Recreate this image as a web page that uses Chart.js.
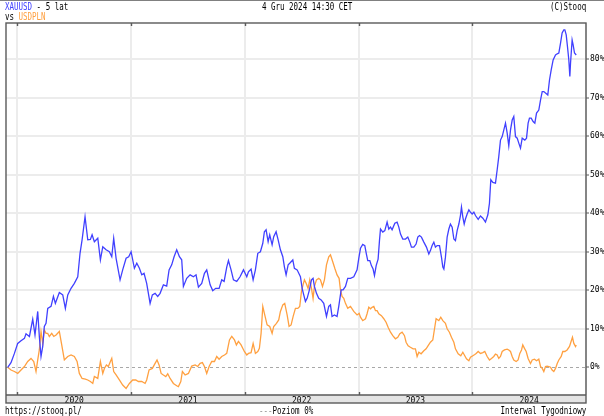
<!DOCTYPE html>
<html>
<head>
<meta charset="utf-8">
<script src="https://cdn.jsdelivr.net/npm/chart.js@4.4.1/dist/chart.umd.min.js"></script>
<style>
body { margin: 0; background: #fff; }
#wrap { position: relative; width: 604px; height: 416px; overflow: hidden; }
#chart { position: absolute; left: 0; top: 0; }
.t {
    position: absolute;
    font: 10px "DejaVu Sans Mono", monospace;
    line-height: 10px;
    white-space: nowrap;
    color: #000;
    transform: scaleX(0.75);
    transform-origin: 0 0;
}
.r { transform-origin: 100% 0; }
.blue { color: #4040ff; }
.orange { color: #ffa040; }
.gray { color: #999; }
#topline { position: absolute; left: 0; top: 0; width: 604px; height: 1px; background: #808080; }
</style>
</head>
<body>
<div id="wrap">
    <canvas id="chart" width="604" height="416"></canvas>
    <div id="topline"></div>
    <div class="t" style="left:5px;top:2px"><span class="blue">XAUUSD</span> - 5 lat</div>
    <div class="t" style="left:5px;top:12px">vs <span class="orange">USDPLN</span></div>
    <div class="t" style="left:262px;top:2px">4 Gru 2024 14:30 CET</div>
    <div class="t r" style="right:18px;top:2px">(C)Stooq</div>
    <div class="t" style="left:5px;top:406px">https://stooq.pl/</div>
    <div class="t" style="left:259px;top:406px"><span class="gray">---</span>Poziom 0%</div>
    <div class="t r" style="right:18px;top:406px">Interwal Tygodniowy</div>
</div>
<script>
"use strict";

// weekly closes, % change vs start (dates in decimal years)
const goldDates = [
    2019.915,2019.944,2019.974,2020.003,2020.032,2020.062,2020.076,2020.106,2020.135,2020.155,
    2020.179,2020.193,2020.208,2020.223,2020.237,2020.252,2020.267,2020.296,2020.317,2020.334,
    2020.369,2020.399,2020.422,2020.443,2020.472,2020.501,2020.531,2020.551,2020.569,2020.595,
    2020.619,2020.642,2020.657,2020.677,2020.707,2020.730,2020.751,2020.780,2020.809,2020.830,
    2020.847,2020.868,2020.903,2020.926,2020.956,2020.979,2021.000,2021.029,
    2021.050,2021.073,2021.094,2021.114,2021.137,2021.152,2021.167,2021.187,2021.211,2021.234,
    2021.255,2021.284,2021.313,2021.334,2021.357,2021.378,2021.401,2021.425,2021.445,2021.460,
    2021.489,2021.519,2021.548,2021.571,2021.592,2021.621,2021.645,2021.665,2021.695,2021.718,
    2021.744,2021.774,2021.797,2021.818,2021.841,2021.856,2021.879,2021.900,2021.929,2021.958,
    2021.988,2022.017,2022.032,
    2022.055,2022.073,2022.093,2022.114,2022.137,2022.158,2022.172,2022.187,2022.205,2022.219,
    2022.240,2022.254,2022.275,2022.293,2022.313,2022.334,2022.348,2022.363,2022.381,2022.401,
    2022.422,2022.436,2022.460,2022.489,2022.504,2022.518,2022.533,2022.548,2022.568,2022.586,
    2022.600,2022.612,2022.630,2022.650,2022.671,2022.694,2022.718,2022.738,2022.753,2022.767,
    2022.788,2022.811,2022.826,2022.847,2022.864,2022.885,2022.905,2022.929,2022.958,2022.987,
    2023.002,2023.017,
    2023.037,2023.055,2023.069,2023.081,2023.099,2023.113,2023.128,2023.140,2023.155,2023.172,
    2023.184,2023.193,2023.213,2023.231,2023.251,2023.266,2023.281,2023.295,2023.319,2023.339,
    2023.354,2023.369,2023.389,2023.413,2023.433,2023.451,2023.465,2023.486,2023.506,2023.521,
    2023.536,2023.553,2023.574,2023.597,2023.618,2023.632,2023.647,2023.662,2023.676,2023.691,
    2023.712,2023.729,2023.741,2023.750,2023.764,2023.779,2023.794,2023.808,2023.823,2023.838,
    2023.852,2023.867,2023.882,2023.896,2023.905,2023.917,2023.929,2023.940,2023.955,2023.970,
    2023.984,2023.999,2024.014,2024.028,
    2024.052,2024.072,2024.093,2024.116,2024.137,2024.151,2024.163,2024.181,2024.204,2024.219,
    2024.233,2024.248,2024.263,2024.277,2024.292,2024.307,2024.321,2024.336,2024.351,2024.365,
    2024.380,2024.395,2024.409,2024.424,2024.439,2024.462,2024.477,2024.491,2024.503,2024.518,
    2024.535,2024.550,2024.565,2024.585,2024.600,2024.615,2024.629,2024.644,2024.664,2024.679,
    2024.694,2024.711,2024.732,2024.747,2024.761,2024.776,2024.790,2024.805,2024.814,2024.826,
    2024.837,2024.849,2024.858,2024.864,2024.878,2024.887,2024.899,2024.914
];
const goldPct = [
    0,1.2,3.6,6.2,6.9,7.5,8.7,8.0,12.5,8.4,
    14.5,8.0,2.8,5.4,10.6,11.4,15.3,15.8,18.4,16.6,
    19.4,18.8,15.3,18.8,20.5,21.8,23.5,29.6,33.1,39.1,
    33.1,33.2,34.4,32.6,33.5,27.9,31.3,30.5,30.0,28.7,
    33.5,28.3,22.7,25.3,28.3,28.7,30.0,25.7,
    27.0,25.7,24.0,24.4,21.8,19.2,16.6,18.8,19.2,18.4,
    19.2,21.4,21.1,25.3,26.6,28.7,30.5,28.7,27.9,21.0,
    23.1,24.0,23.5,24.0,20.8,21.8,24.4,25.3,21.4,19.9,
    20.5,20.5,22.7,22.3,26.0,27.7,25.3,22.7,22.3,23.5,
    25.3,23.5,24.8,
    25.5,22.7,25.3,29.6,30.0,32.2,35.2,35.7,32.6,34.4,
    31.8,33.9,35.2,33.1,30.5,28.7,26.1,24.0,26.6,27.2,
    27.9,25.7,25.3,23.5,20.5,18.8,17.1,17.9,20.1,22.7,
    23.1,21.0,19.2,17.9,17.5,16.6,13.2,15.8,16.2,13.2,
    13.6,13.2,15.8,20.1,20.1,21.0,23.1,23.1,23.5,25.3,
    28.3,30.9,
    31.9,31.6,29.4,27.7,27.7,26.4,25.5,23.8,26.4,28.1,
    32.9,35.9,35.1,35.5,37.7,35.9,36.4,35.7,37.4,37.7,
    36.4,34.6,33.3,33.3,33.8,32.5,31.2,31.2,32.0,33.8,
    34.2,33.8,32.5,31.2,29.4,30.3,31.6,32.5,31.2,31.6,
    31.6,28.6,26.0,25.5,28.6,33.8,35.9,37.2,36.4,33.3,
    32.9,35.5,37.2,39.4,41.6,39.0,37.2,38.5,39.8,40.9,
    40.3,39.8,40.3,39.4,
    38.4,39.3,38.7,37.7,39.6,42.6,48.7,48.0,47.8,51.3,
    54.7,59.0,59.9,61.6,63.4,60.8,57.5,61.6,64.2,65.1,
    59.9,59.5,58.2,56.9,59.5,59.0,59.5,63.4,64.7,64.7,
    63.8,63.4,66.0,66.8,69.4,71.6,71.6,71.2,70.7,74.6,
    77.2,79.8,81.1,81.4,81.6,84.2,86.8,87.6,87.6,86.3,
    83.3,79.8,75.5,79.0,85.0,83.7,81.6,81.1
];

const plnDates = [
    2019.915,2019.944,2019.974,2020.003,2020.032,2020.062,2020.091,2020.120,2020.144,2020.164,
    2020.179,2020.193,2020.208,2020.223,2020.237,2020.252,2020.267,2020.281,2020.302,2020.320,
    2020.340,2020.369,2020.390,2020.413,2020.443,2020.472,2020.501,2020.525,2020.545,2020.569,
    2020.598,2020.619,2020.642,2020.663,2020.677,2020.707,2020.730,2020.751,2020.765,2020.783,
    2020.800,2020.818,2020.830,2020.847,2020.868,2020.897,2020.926,2020.956,2020.985,2021.014,
    2021.041,2021.064,2021.094,2021.123,2021.137,2021.158,2021.187,2021.211,2021.228,2021.246,
    2021.264,2021.284,2021.305,2021.322,2021.343,2021.372,2021.401,2021.416,2021.437,2021.451,
    2021.475,2021.504,2021.533,2021.563,2021.586,2021.607,2021.627,2021.645,2021.665,2021.686,
    2021.709,2021.733,2021.753,2021.774,2021.797,2021.821,2021.841,2021.865,2021.885,2021.909,
    2021.926,2021.944,2021.967,2021.996,2022.017,2022.032,
    2022.055,2022.073,2022.093,2022.114,2022.128,2022.143,2022.158,2022.172,2022.196,2022.219,
    2022.240,2022.254,2022.278,2022.298,2022.313,2022.334,2022.351,2022.372,2022.389,2022.407,
    2022.425,2022.445,2022.466,2022.483,2022.498,2022.512,2022.524,2022.539,2022.556,2022.571,
    2022.586,2022.600,2022.612,2022.630,2022.650,2022.665,2022.683,2022.700,2022.718,2022.738,
    2022.753,2022.773,2022.791,2022.811,2022.829,2022.841,2022.855,2022.870,2022.885,2022.905,
    2022.929,2022.958,2022.987,2023.005,2023.017,
    2023.037,2023.061,2023.075,2023.090,2023.105,2023.119,2023.134,2023.149,2023.163,2023.178,
    2023.201,2023.222,2023.242,2023.260,2023.281,2023.301,2023.324,2023.345,2023.363,2023.383,
    2023.404,2023.418,2023.436,2023.456,2023.480,2023.500,2023.515,2023.530,2023.550,2023.574,
    2023.594,2023.612,2023.632,2023.653,2023.668,2023.682,2023.706,2023.723,2023.741,2023.764,
    2023.779,2023.799,2023.817,2023.838,2023.852,2023.876,2023.899,2023.917,2023.934,2023.949,
    2023.970,2023.984,2024.005,2024.022,
    2024.034,2024.052,2024.072,2024.093,2024.110,2024.131,2024.151,2024.169,2024.189,2024.204,
    2024.219,2024.233,2024.248,2024.263,2024.283,2024.307,2024.321,2024.336,2024.351,2024.365,
    2024.386,2024.403,2024.418,2024.433,2024.444,2024.459,2024.474,2024.491,2024.512,2024.527,
    2024.547,2024.565,2024.585,2024.600,2024.615,2024.629,2024.644,2024.658,2024.673,2024.688,
    2024.702,2024.717,2024.732,2024.747,2024.761,2024.782,2024.796,2024.814,2024.834,2024.855,
    2024.873,2024.881,2024.893,2024.908,2024.914
];
const plnPct = [
    0,-0.7,-1.1,-1.6,-0.7,0.2,1.5,2.3,1.5,-1.1,
    1.9,4.5,9.3,6.2,9.7,8.8,8.8,8.0,8.8,8.0,
    8.4,9.3,5.8,1.9,2.8,3.2,2.8,1.5,-1.6,-2.9,
    -3.1,-3.3,-3.7,-4.2,-2.4,-2.9,1.5,-1.6,-0.3,0.6,
    0.2,1.5,2.3,-1.1,-2.0,-3.3,-4.6,-5.5,-4.2,-3.3,
    -3.3,-3.7,-3.7,-4.2,-3.3,-0.7,-0.3,1.0,1.9,0.6,
    -1.6,-2.0,-2.4,-1.7,-2.9,-4.2,-4.8,-5.0,-3.7,-1.1,
    -2.0,-1.6,0.3,0.6,0.2,1.0,1.2,0.2,-1.6,0.2,
    1.5,1.5,2.8,2.1,2.8,3.2,3.6,7.1,8.0,7.1,
    5.8,6.7,5.8,4.1,3.2,3.6,
    3.8,6.2,3.6,4.1,4.9,8.8,15.8,14.0,11.0,10.6,
    8.8,10.6,11.4,12.3,14.5,16.2,16.6,13.6,10.6,11.0,
    13.2,15.3,15.3,15.8,19.7,21.4,22.7,21.8,20.5,22.7,
    20.5,17.9,21.0,22.7,23.1,22.7,21.0,22.7,26.6,28.7,
    29.2,27.4,25.7,24.0,23.1,20.1,18.4,17.9,16.6,15.3,
    15.8,14.5,13.6,14.0,13.0,
    12.1,12.6,13.9,15.6,15.2,15.6,15.8,14.7,14.7,13.9,
    13.4,12.6,11.7,10.4,9.1,8.2,7.4,7.8,8.7,9.1,
    8.2,6.5,5.6,5.2,4.8,4.8,2.8,3.9,3.5,4.3,
    4.8,5.6,6.5,7.1,10.0,12.6,12.1,13.0,12.1,11.4,
    10.0,9.1,7.8,6.5,4.8,3.5,3.0,3.9,3.0,2.2,
    1.7,2.6,3.0,3.3,
    3.6,4.1,3.6,3.8,4.1,2.8,1.9,2.3,2.8,3.4,
    3.2,2.3,2.8,4.1,4.5,4.7,4.5,4.1,2.8,1.9,
    1.5,1.9,3.6,4.5,5.8,4.9,4.1,2.3,1.0,1.9,
    2.1,1.7,2.1,0.2,-0.3,-1.1,0.2,0.3,0.2,0,
    -0.7,-1.1,-0.3,1.0,1.9,2.8,4.1,4.1,4.5,5.4,
    7.1,7.8,6.2,5.4,5.8
];

const yearLabels = [2020, 2021, 2022, 2023, 2024];
const pctTicks = [0, 10, 20, 30, 40, 50, 60, 70, 80];

const BLUE = "rgb(64, 64, 255)";
const ORANGE = "rgb(255, 160, 64)";
const FRAME = "#5a5a5a";
const GRID = "#ececec";
const BAND_H = 8;

function toPoints(dates, vals) {
    return dates.map((d, i) => ({ x: d, y: vals[i] }));
}

// year band, frame, inward ticks and the 0% level
const stooqFrame = {
    id: "stooqFrame",
    beforeDraw(chart) {
        const { ctx, chartArea: a } = chart;
        ctx.save();
        ctx.fillStyle = "#e4e4e4";
        ctx.fillRect(a.left, a.bottom, a.right - a.left, BAND_H);
        ctx.restore();
    },
    beforeDatasetsDraw(chart) {
        const { ctx, chartArea: a, scales } = chart;
        const y0 = Math.round(scales.y.getPixelForValue(0)) + 0.5;
        ctx.save();
        ctx.strokeStyle = "#a8a8a8";
        ctx.lineWidth = 1;
        ctx.setLineDash([3, 3]);
        ctx.beginPath();
        ctx.moveTo(a.left, y0);
        ctx.lineTo(a.right, y0);
        ctx.stroke();
        ctx.restore();
    },
    afterDraw(chart) {
        const { ctx, chartArea: a, scales } = chart;
        ctx.save();
        ctx.strokeStyle = FRAME;
        ctx.lineWidth = 1.4;
        ctx.strokeRect(a.left, a.top, a.right - a.left, a.bottom - a.top + BAND_H);
        ctx.beginPath();
        ctx.moveTo(a.left, a.bottom);
        ctx.lineTo(a.right, a.bottom);
        yearLabels.forEach(yr => {
            const px = Math.round(scales.x.getPixelForValue(yr)) + 0.5;
            ctx.moveTo(px, a.top);
            ctx.lineTo(px, a.top + 3);
            ctx.moveTo(px, a.bottom - 3);
            ctx.lineTo(px, a.bottom);
        });
        ctx.stroke();
        ctx.restore();
    }
};

const monoFont = { family: "'DejaVu Sans Mono', monospace", size: 8 };

new Chart(document.getElementById("chart").getContext("2d"), {
    type: "line",
    data: {
        datasets: [{
            label: "XAUUSD",
            data: toPoints(goldDates, goldPct),
            borderColor: BLUE,
            borderWidth: 1.3,
            pointRadius: 0,
            tension: 0
        }, {
            label: "USDPLN",
            data: toPoints(plnDates, plnPct),
            borderColor: ORANGE,
            borderWidth: 1.3,
            pointRadius: 0,
            tension: 0
        }]
    },
    options: {
        responsive: false,
        animation: false,
        devicePixelRatio: 1,
        layout: { padding: { left: 6, top: 23, right: 0, bottom: 0 } },
        plugins: { legend: { display: false }, tooltip: { enabled: false } },
        scales: {
            x: {
                type: "linear",
                min: 2019.9,
                max: 2025.0,
                afterBuildTicks: s => { s.ticks = yearLabels.map(v => ({ value: v + 0.5 })); },
                afterFit: s => { s.height = 21; },
                grid: { offset: true, color: GRID, lineWidth: 2, drawTicks: false },
                border: { display: false },
                ticks: {
                    autoSkip: false,
                    maxRotation: 0,
                    padding: 1,
                    color: "#000",
                    font: monoFont,
                    callback: v => String(Math.floor(v))
                }
            },
            y: {
                position: "right",
                min: -7.2,
                max: 89.4,
                afterBuildTicks: s => { s.ticks = pctTicks.map(v => ({ value: v })); },
                afterFit: s => { s.width = 18; },
                grid: {
                    color: c => (c.tick && c.tick.value === 0) ? "rgba(0,0,0,0)" : GRID,
                    lineWidth: 2,
                    tickLength: 3,
                    tickColor: FRAME,
                    tickWidth: 1
                },
                border: { display: false },
                ticks: {
                    padding: 1,
                    color: "#000",
                    font: monoFont,
                    callback: v => v + "%"
                }
            }
        }
    },
    plugins: [stooqFrame]
});
</script>
</body>
</html>
